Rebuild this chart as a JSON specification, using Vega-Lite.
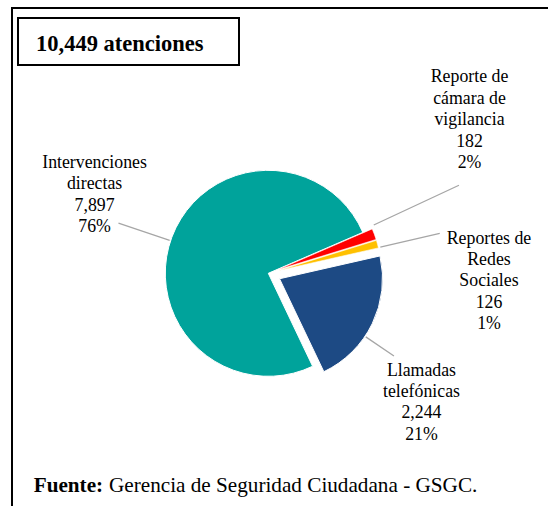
{
  "$schema": "https://vega.github.io/schema/vega-lite/v6.json",
  "width": 548,
  "height": 506,
  "autosize": {"type": "fit", "contains": "padding"},
  "padding": {"left": 11, "top": 7, "right": -4, "bottom": -4},
  "background": "#ffffff",
  "config": {"view": {"stroke": null}, "font": "Liberation Serif"},
  "layer": [
    {
      "data": {"values": [
        {"categoria": "Llamadas telefónicas", "atenciones": 2244, "rotulo": "Llamadas\ntelefónicas\n2,244\n21%"},
        {"categoria": "Intervenciones directas", "atenciones": 7897, "rotulo": "Intervenciones\ndirectas\n7,897\n76%"},
        {"categoria": "Reporte de cámara de vigilancia", "atenciones": 182, "rotulo": "Reporte de\ncámara de\nvigilancia\n182\n2%"},
        {"categoria": "Reportes de Redes Sociales", "atenciones": 126, "rotulo": "Reportes de\nRedes\nSociales\n126\n1%"}
      ]},
      "transform": [{"stack": "atenciones", "groupby": [], "as": ["s0", "s1"]}],
      "layer": [
        {
          "transform": [{"filter": "datum.categoria === 'Intervenciones directas'"}],
          "mark": {"type": "arc", "radius": 103, "stroke": "#ffffff", "strokeWidth": 1, "x": {"expr": "width/2 - 13.2"}, "y": {"expr": "height/2 + 14.8"}},
          "encoding": {
            "theta": {"field": "s0", "type": "quantitative", "scale": {"domain": [0, 10449], "range": [1.3474, 7.6306]}},
            "theta2": {"field": "s1"},
            "color": {"field": "categoria", "type": "nominal", "legend": null, "scale": {"domain": ["Intervenciones directas", "Llamadas telefónicas", "Reporte de cámara de vigilancia", "Reportes de Redes Sociales"], "range": ["#00A39B", "#1D4A84", "#FF0000", "#FFC000"]}}
          }
        },
        {
          "transform": [{"filter": "datum.categoria === 'Llamadas telefónicas'"}],
          "mark": {"type": "arc", "radius": 103, "stroke": "#ffffff", "strokeWidth": 1, "x": {"expr": "width/2 - 1.95"}, "y": {"expr": "height/2 + 20.25"}},
          "encoding": {
            "theta": {"field": "s0", "type": "quantitative", "scale": {"domain": [0, 10449], "range": [1.3474, 7.6306]}},
            "theta2": {"field": "s1"},
            "color": {"field": "categoria", "type": "nominal", "legend": null}
          }
        },
        {
          "transform": [{"filter": "datum.categoria === 'Reporte de cámara de vigilancia'"}],
          "mark": {"type": "arc", "radius": 103, "stroke": "#ffffff", "strokeWidth": 0.6, "x": {"expr": "width/2 - 3.8"}, "y": {"expr": "height/2 + 11.3"}},
          "encoding": {
            "theta": {"field": "s0", "type": "quantitative", "scale": {"domain": [0, 10449], "range": [1.3474, 7.6306]}},
            "theta2": {"field": "s1"},
            "color": {"field": "categoria", "type": "nominal", "legend": null}
          }
        },
        {
          "transform": [{"filter": "datum.categoria === 'Reportes de Redes Sociales'"}],
          "mark": {"type": "arc", "radius": 103, "stroke": "#ffffff", "strokeWidth": 0.6, "x": {"expr": "width/2 - 3.5"}, "y": {"expr": "height/2 + 12.2"}},
          "encoding": {
            "theta": {"field": "s0", "type": "quantitative", "scale": {"domain": [0, 10449], "range": [1.3474, 7.6306]}},
            "theta2": {"field": "s1"},
            "color": {"field": "categoria", "type": "nominal", "legend": null}
          }
        },
        {
          "transform": [{"filter": "datum.categoria === 'Intervenciones directas'"}],
          "mark": {"type": "arc", "radius": 158, "radius2": 104, "thetaOffset": 2.3386, "theta2Offset": 2.3386, "fillOpacity": 0, "stroke": "#A6A6A6", "strokeWidth": 1.3, "x": {"expr": "width/2 - 13.2"}, "y": {"expr": "height/2 + 14.8"}},
          "encoding": {
            "theta": {"field": "s0", "type": "quantitative", "scale": {"domain": [0, 10449], "range": [1.3474, 7.6306]}},
            "theta2": {"field": "s0"}
          }
        },
        {
          "transform": [{"filter": "datum.categoria === 'Reporte de cámara de vigilancia'"}],
          "mark": {"type": "arc", "radius": 200, "radius2": 106, "thetaOffset": -0.0278, "theta2Offset": -0.0278, "fillOpacity": 0, "stroke": "#A6A6A6", "strokeWidth": 1.3, "x": {"expr": "width/2 - 3.8"}, "y": {"expr": "height/2 + 11.3"}},
          "encoding": {
            "theta": {"field": "s0", "type": "quantitative", "scale": {"domain": [0, 10449], "range": [1.3474, 7.6306]}},
            "theta2": {"field": "s0"}
          }
        },
        {
          "transform": [{"filter": "datum.categoria === 'Reportes de Redes Sociales'"}],
          "mark": {"type": "arc", "radius": 166, "radius2": 105, "thetaOffset": 0.0723, "theta2Offset": 0.0723, "fillOpacity": 0, "stroke": "#A6A6A6", "strokeWidth": 1.3, "x": {"expr": "width/2 - 3.5"}, "y": {"expr": "height/2 + 12.2"}},
          "encoding": {
            "theta": {"field": "s0", "type": "quantitative", "scale": {"domain": [0, 10449], "range": [1.3474, 7.6306]}},
            "theta2": {"field": "s0"}
          }
        },
        {
          "transform": [{"filter": "datum.categoria === 'Llamadas telefónicas'"}],
          "mark": {"type": "arc", "radius": 138, "radius2": 104, "thetaOffset": 0.8168, "theta2Offset": 0.8168, "fillOpacity": 0, "stroke": "#A6A6A6", "strokeWidth": 1.3, "x": {"expr": "width/2 - 1.95"}, "y": {"expr": "height/2 + 20.25"}},
          "encoding": {
            "theta": {"field": "s0", "type": "quantitative", "scale": {"domain": [0, 10449], "range": [1.3474, 7.6306]}},
            "theta2": {"field": "s0"}
          }
        },
        {
          "transform": [{"filter": "datum.categoria === 'Intervenciones directas'"}],
          "mark": {"type": "text", "radius": 205.8, "thetaOffset": 2.5812, "x": {"expr": "width/2 - 13.2"}, "y": {"expr": "height/2 + 14.8"}, "align": "center", "baseline": "middle", "fontSize": 17.8, "lineHeight": 21.4, "lineBreak": "\n", "font": "Liberation Serif", "color": "#000000"},
          "encoding": {
            "theta": {"field": "s0", "type": "quantitative", "scale": {"domain": [0, 10449], "range": [1.3474, 7.6306]}},
            "text": {"field": "rotulo", "type": "nominal"}
          }
        },
        {
          "transform": [{"filter": "datum.categoria === 'Reporte de cámara de vigilancia'"}],
          "mark": {"type": "text", "radius": 280.75, "thetaOffset": -0.3632, "x": {"expr": "width/2 - 13.2"}, "y": {"expr": "height/2 + 14.8"}, "align": "center", "baseline": "middle", "fontSize": 17.8, "lineHeight": 21.4, "lineBreak": "\n", "font": "Liberation Serif", "color": "#000000"},
          "encoding": {
            "theta": {"field": "s0", "type": "quantitative", "scale": {"domain": [0, 10449], "range": [1.3474, 7.6306]}},
            "text": {"field": "rotulo", "type": "nominal"}
          }
        },
        {
          "transform": [{"filter": "datum.categoria === 'Reportes de Redes Sociales'"}],
          "mark": {"type": "text", "radius": 223.4, "thetaOffset": 0.1428, "x": {"expr": "width/2 - 13.2"}, "y": {"expr": "height/2 + 14.8"}, "align": "center", "baseline": "middle", "fontSize": 17.8, "lineHeight": 21.4, "lineBreak": "\n", "font": "Liberation Serif", "color": "#000000"},
          "encoding": {
            "theta": {"field": "s0", "type": "quantitative", "scale": {"domain": [0, 10449], "range": [1.3474, 7.6306]}},
            "text": {"field": "rotulo", "type": "nominal"}
          }
        },
        {
          "transform": [{"filter": "datum.categoria === 'Llamadas telefónicas'"}],
          "mark": {"type": "text", "radius": 181.4, "thetaOffset": 0.7889, "x": {"expr": "width/2 - 13.2"}, "y": {"expr": "height/2 + 14.8"}, "align": "center", "baseline": "middle", "fontSize": 17.8, "lineHeight": 21.4, "lineBreak": "\n", "font": "Liberation Serif", "color": "#000000"},
          "encoding": {
            "theta": {"field": "s0", "type": "quantitative", "scale": {"domain": [0, 10449], "range": [1.3474, 7.6306]}},
            "text": {"field": "rotulo", "type": "nominal"}
          }
        }
      ]
    },
    {
      "data": {"values": [{"texto": "10,449 atenciones"}]},
      "layer": [
        {
          "mark": {"type": "rect", "x": 0, "y": 0, "x2": "width", "y2": "height", "fill": null, "fillOpacity": 0, "stroke": "#000000", "strokeWidth": 2},
          "encoding": {}
        },
        {
          "mark": {"type": "rect", "x": 6, "x2": 227, "y": 10, "y2": 57, "fill": "#ffffff", "stroke": "#000000", "strokeWidth": 2},
          "encoding": {}
        },
        {
          "mark": {"type": "text", "x": 24, "y": 43, "align": "left", "baseline": "alphabetic", "fontSize": 22.5, "fontWeight": "bold", "font": "Liberation Serif", "color": "#000000"},
          "encoding": {"text": {"field": "texto", "type": "nominal"}}
        }
      ]
    },
    {
      "data": {"values": [{"parte": "Fuente:", "resto": "Gerencia de Seguridad Ciudadana - GSGC."}]},
      "layer": [
        {
          "mark": {"type": "text", "x": 21.7, "y": 484, "align": "left", "baseline": "alphabetic", "fontSize": 21.2, "fontWeight": "bold", "font": "Liberation Serif", "color": "#000000"},
          "encoding": {"text": {"field": "parte", "type": "nominal"}}
        },
        {
          "mark": {"type": "text", "x": 97, "y": 484, "align": "left", "baseline": "alphabetic", "fontSize": 21.2, "font": "Liberation Serif", "color": "#000000"},
          "encoding": {"text": {"field": "resto", "type": "nominal"}}
        }
      ]
    }
  ]
}
